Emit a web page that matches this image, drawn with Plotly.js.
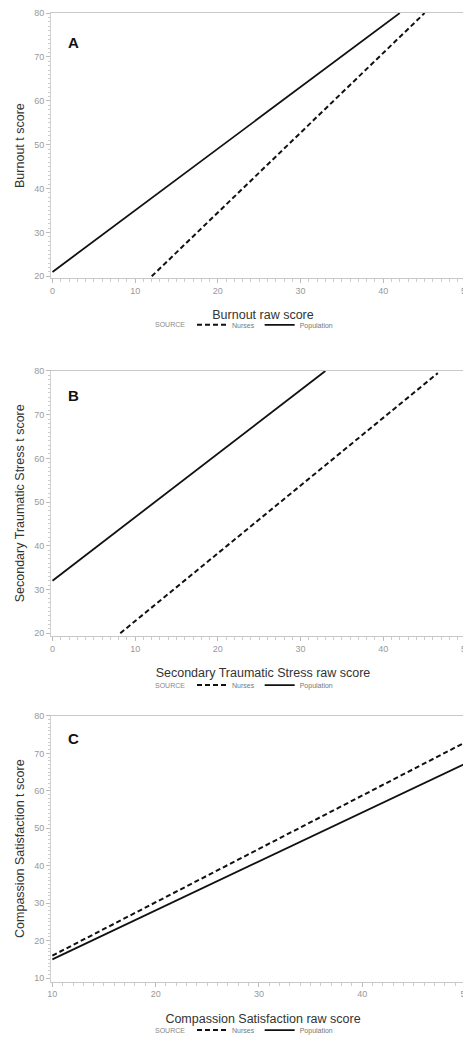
<!DOCTYPE html>
<html>
<head>
<meta charset="utf-8">
<script src="https://cdn.plot.ly/plotly-3.0.1.min.js"></script>
<style>
html,body{margin:0;padding:0;overflow:hidden;background:#fff;}
#chart{width:475px;height:1045px;}
</style>
</head>
<body>
<div id="chart"></div>
<script>
// Panel A: Burnout
const burnoutNursesX = [12, 45];
const burnoutNursesY = [20, 80];
const burnoutPopX = [0, 42];
const burnoutPopY = [21, 80];
// Panel B: Secondary Traumatic Stress
const stsNursesX = [8.2, 46.6];
const stsNursesY = [20, 79.5];
const stsPopX = [0, 33];
const stsPopY = [32, 80];
// Panel C: Compassion Satisfaction
const csNursesX = [10, 50];
const csNursesY = [16, 73];
const csPopX = [10, 50];
const csPopY = [15, 67.3];

const seriesNames = ['Nurses', 'Population'];
const panelLetters = ['A', 'B', 'C'];
const xTitles = ['Burnout raw score', 'Secondary Traumatic Stress raw score', 'Compassion Satisfaction raw score'];
const yTitles = ['Burnout t score', 'Secondary Traumatic Stress t score', 'Compassion Satisfaction t score'];
const legendTitle = 'SOURCE';

const W = 475, H = 1045;
const FONT = 'Liberation Sans, Arial, sans-serif';
// pixel boxes of plot areas [top, bottom]
const boxes = [[13, 281], [374.3, 642], [722.7, 991]];
const xl = 51;

function yd(b){ return [1 - b[1]/H, 1 - b[0]/H]; }

const dashStyle = '5px,3px';
const data = [];
const panels = [
  {nx: burnoutNursesX, ny: burnoutNursesY, px: burnoutPopX, py: burnoutPopY},
  {nx: stsNursesX, ny: stsNursesY, px: stsPopX, py: stsPopY},
  {nx: csNursesX, ny: csNursesY, px: csPopX, py: csPopY}
];
panels.forEach((p, i) => {
  const sfx = i === 0 ? '' : String(i + 1);
  const lg = i === 0 ? 'legend' : 'legend' + (i + 1);
  data.push({x: p.nx, y: p.ny, name: seriesNames[0], mode: 'lines', xaxis: 'x' + sfx, yaxis: 'y' + sfx,
    legend: lg, line: {color: '#111', width: 2, dash: dashStyle}});
  data.push({x: p.px, y: p.py, name: seriesNames[1], mode: 'lines', xaxis: 'x' + sfx, yaxis: 'y' + sfx,
    legend: lg, line: {color: '#111', width: 1.8}});
});

const xRanges = [[-0.18, 51.1], [-0.18, 51.1], [9.87, 50.92]];
const yRanges = [[19.55, 80.05], [19.4, 80.05], [9.1, 80.05]];
const yTicks = [[20,30,40,50,60,70,80],[20,30,40,50,60,70,80],[10,20,30,40,50,60,70,80]];

const layout = {
  width: W, height: H,
  margin: {l: 0, r: 0, t: 0, b: 0},
  paper_bgcolor: '#fff', plot_bgcolor: '#fff',
  font: {family: FONT, color: '#333'},
  showlegend: true,
  annotations: [],
  shapes: []
};

for (let i = 0; i < 3; i++) {
  const sfx = i === 0 ? '' : String(i + 1);
  const xa = 'xaxis' + sfx, ya = 'yaxis' + sfx;
  layout[xa] = {
    domain: [xl / W, 1], anchor: 'y' + sfx, range: xRanges[i],
    dtick: 10, tick0: 0, ticks: 'outside', ticklen: 4, tickcolor: '#bbb', tickwidth: 1,
    minor: {dtick: 1, ticks: 'outside', ticklen: 3, tickcolor: '#ccc', showgrid: false},
    showline: true, linecolor: '#c8c8c8', linewidth: 1, mirror: true,
    showgrid: false, zeroline: false,
    tickfont: {size: 9, color: '#999', family: FONT},
    title: {text: xTitles[i], font: {size: 12.5, color: '#333', family: FONT}, standoff: 15},
    automargin: false
  };
  layout[ya] = {
    domain: yd(boxes[i]), anchor: 'x' + sfx, range: yRanges[i],
    tickvals: yTicks[i], ticks: 'outside', ticklen: 4, tickcolor: '#bbb', tickwidth: 1,
    minor: {dtick: 1, tick0: 0, ticks: 'outside', ticklen: 2, tickcolor: '#ccc', showgrid: false},
    showline: true, linecolor: '#d0d0d0', linewidth: 1,
    showgrid: false, zeroline: false,
    tickfont: {size: 9, color: '#999', family: FONT},
    title: {text: yTitles[i], font: {size: 12.5, color: '#333', family: FONT}, standoff: 6},
    automargin: false
  };
  const lg = i === 0 ? 'legend' : 'legend' + (i + 1);
  const legY = [328, 691.7, 1040][i];
  layout[lg] = {
    orientation: 'h', x: 192 / W, xanchor: 'left', y: 1 - legY / H, yanchor: 'middle',
    font: {size: 7, color: '#777', family: FONT},
    itemwidth: 30, tracegroupgap: 0, bgcolor: 'rgba(0,0,0,0)', borderwidth: 0
  };
  layout.annotations.push({
    text: legendTitle, xref: 'paper', yref: 'paper',
    x: 153 / W, y: 1 - legY / H, xanchor: 'left', yanchor: 'middle', showarrow: false,
    font: {size: 7, color: '#888', family: FONT}
  });
  layout.annotations.push({
    text: '<b>' + panelLetters[i] + '</b>', xref: 'x' + sfx + ' domain', yref: 'y' + sfx + ' domain',
    x: (73 - xl) / (W - xl), y: 1 - ([43, 399, 746][i] - boxes[i][0]) / (boxes[i][1] - boxes[i][0]),
    xanchor: 'center', yanchor: 'middle', showarrow: false,
    font: {size: 15, color: '#111', family: FONT}
  });
}

Plotly.newPlot('chart', data, layout, {displayModeBar: false, staticPlot: true});
</script>
</body>
</html>
